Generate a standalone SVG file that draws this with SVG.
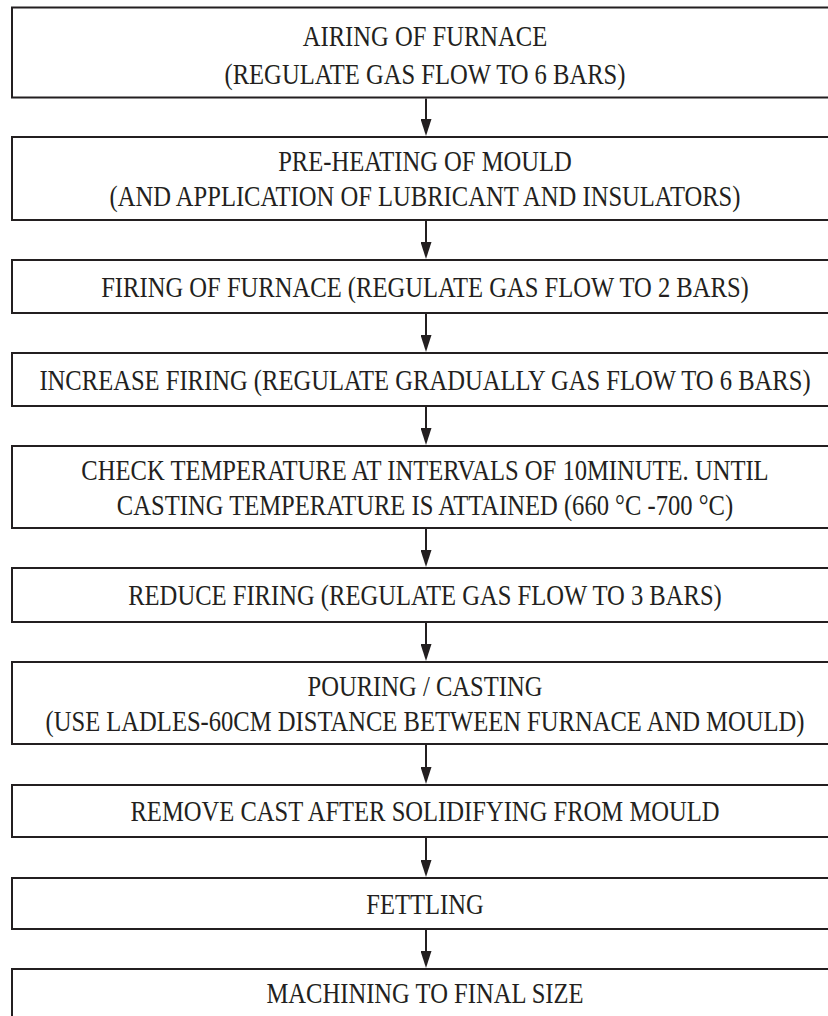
<svg xmlns="http://www.w3.org/2000/svg" width="828" height="1016" viewBox="0 0 828 1016">
<style>
.box{fill:#fff;stroke:#231f20;stroke-width:2}
.t{font-family:"Liberation Serif","Times New Roman",serif;font-size:30px;fill:#231f20;text-anchor:middle}
.c{stroke:#231f20;stroke-width:2;fill:none}
</style>
<defs>
<marker id="ah" markerUnits="userSpaceOnUse" viewBox="0 0 17 11" markerWidth="17" markerHeight="11" refX="10" refY="5.5" orient="auto">
<path d="M0,0 L17,5.5 L0,11 Z" fill="#231f20"/>
</marker>
</defs>
<rect width="828" height="1016" fill="#fff"/>
<g id="n1"><rect class="box" x="12" y="7.5" width="828" height="90"/>
<text class="t" transform="translate(425,46) scale(0.82,1)">AIRING OF FURNACE</text>
<text class="t" transform="translate(425,84) scale(0.82,1)">(REGULATE GAS FLOW TO 6 BARS)</text></g>
<g id="n2"><rect class="box" x="12" y="137" width="828" height="83"/>
<text class="t" transform="translate(425,171) scale(0.82,1)">PRE-HEATING OF MOULD</text>
<text class="t" transform="translate(425,206) scale(0.82,1)">(AND APPLICATION OF LUBRICANT AND INSULATORS)</text></g>
<g id="n3"><rect class="box" x="12" y="260" width="828" height="53"/>
<text class="t" transform="translate(425,297) scale(0.82,1)">FIRING OF FURNACE (REGULATE GAS FLOW TO 2 BARS)</text></g>
<g id="n4"><rect class="box" x="12" y="353" width="828" height="53"/>
<text class="t" transform="translate(425,390) scale(0.82,1)">INCREASE FIRING (REGULATE GRADUALLY GAS FLOW TO 6 BARS)</text></g>
<g id="n5"><rect class="box" x="12" y="446" width="828" height="82"/>
<text class="t" transform="translate(425,480) scale(0.82,1)">CHECK TEMPERATURE AT INTERVALS OF 10MINUTE. UNTIL</text>
<text class="t" transform="translate(425,515) scale(0.82,1)">CASTING TEMPERATURE IS ATTAINED (660 °C -700 °C)</text></g>
<g id="n6"><rect class="box" x="12" y="568" width="828" height="54"/>
<text class="t" transform="translate(425,605) scale(0.82,1)">REDUCE FIRING (REGULATE GAS FLOW TO 3 BARS)</text></g>
<g id="n7"><rect class="box" x="12" y="662" width="828" height="82"/>
<text class="t" transform="translate(425,696) scale(0.82,1)">POURING / CASTING</text>
<text class="t" transform="translate(425,731) scale(0.82,1)">(USE LADLES-60CM DISTANCE BETWEEN FURNACE AND MOULD)</text></g>
<g id="n8"><rect class="box" x="12" y="785" width="828" height="52"/>
<text class="t" transform="translate(425,821) scale(0.82,1)">REMOVE CAST AFTER SOLIDIFYING FROM MOULD</text></g>
<g id="n9"><rect class="box" x="12" y="878" width="828" height="51"/>
<text class="t" transform="translate(425,914) scale(0.82,1)">FETTLING</text></g>
<g id="n10"><rect class="box" x="12" y="969" width="828" height="70"/>
<text class="t" transform="translate(425,1003) scale(0.82,1)">MACHINING TO FINAL SIZE</text></g>
<g id="connectors">
<line class="c" x1="426" y1="98.5" x2="426" y2="129" marker-end="url(#ah)"/>
<line class="c" x1="426" y1="221" x2="426" y2="252" marker-end="url(#ah)"/>
<line class="c" x1="426" y1="314" x2="426" y2="345" marker-end="url(#ah)"/>
<line class="c" x1="426" y1="407" x2="426" y2="438" marker-end="url(#ah)"/>
<line class="c" x1="426" y1="529" x2="426" y2="560" marker-end="url(#ah)"/>
<line class="c" x1="426" y1="623" x2="426" y2="654" marker-end="url(#ah)"/>
<line class="c" x1="426" y1="745" x2="426" y2="777" marker-end="url(#ah)"/>
<line class="c" x1="426" y1="838" x2="426" y2="870" marker-end="url(#ah)"/>
<line class="c" x1="426" y1="930" x2="426" y2="961" marker-end="url(#ah)"/>
</g>
</svg>
